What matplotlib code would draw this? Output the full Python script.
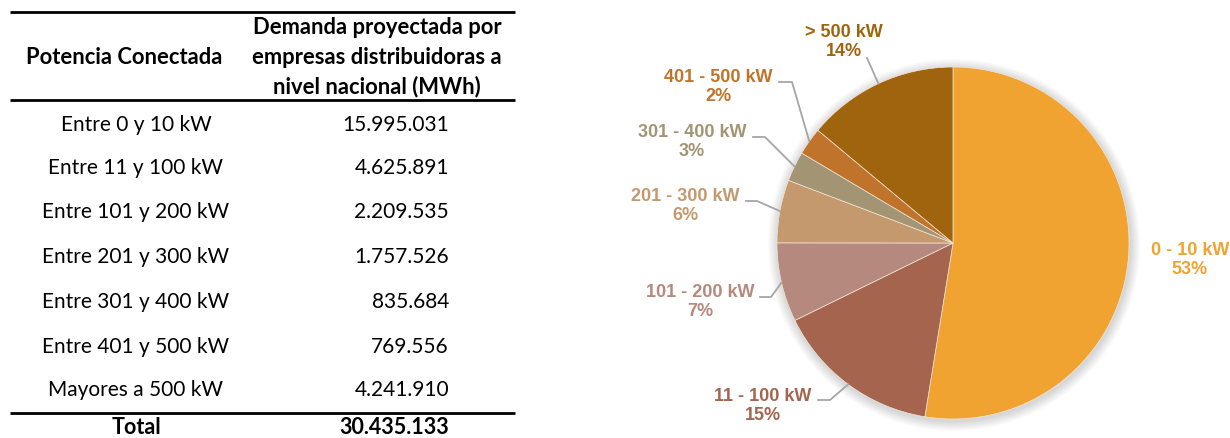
import numpy as np
import matplotlib
matplotlib.use("Agg")
import matplotlib.pyplot as plt
from matplotlib.patches import Circle

# Table data
rangos = ["Entre 0 y 10 kW", "Entre 11 y 100 kW", "Entre 101 y 200 kW",
          "Entre 201 y 300 kW", "Entre 301 y 400 kW", "Entre 401 y 500 kW",
          "Mayores a 500 kW"]
demanda = [15995031, 4625891, 2209535, 1757526, 835684, 769556, 4241910]
demanda_txt = ["15.995.031", "4.625.891", "2.209.535", "1.757.526",
               "835.684", "769.556", "4.241.910"]
total_txt = "30.435.133"

# Pie labels
pie_names = ["0 - 10 kW", "11 - 100 kW", "101 - 200 kW", "201 - 300 kW",
             "301 - 400 kW", "401 - 500 kW", "> 500 kW"]
pie_pct = ["53%", "15%", "7%", "6%", "3%", "2%", "14%"]
colors = ["#F0A330", "#A5644E", "#B5897E", "#C4996E", "#A39474", "#C0732A", "#A0640E"]

W, H = 1230, 438
fig = plt.figure(figsize=(W / 100, H / 100), dpi=100)
ax = fig.add_axes([0, 0, 1, 1])

def up(y):
    return H - y

# ---- table ----
tfont = "Lato"
for yy in [12, 100, 413]:
    ax.plot([10, 515], [up(yy), up(yy)], color="black", lw=2, solid_capstyle="butt")

ax.text(124, up(57), "Potencia Conectada", ha="center", va="center",
        fontsize=15.8, fontweight="bold", family=tfont)
for i, line in enumerate(["Demanda proyectada por", "empresas distribuidoras a",
                          "nivel nacional (MWh)"]):
    ax.text(377, up(28 + 29.5 * i), line, ha="center", va="center",
            fontsize=15.8, fontweight="bold", family=tfont)

row_y = [125, 168, 212, 257, 302, 347, 390]
for r, v, yy in zip(rangos, demanda_txt, row_y):
    ax.text(136, up(yy), r, ha="center", va="center", fontsize=15, family=tfont)
    ax.text(449, up(yy), v, ha="right", va="center", fontsize=15, family=tfont)
ax.text(137, up(428), "Total", ha="center", va="center", fontsize=15.5,
        fontweight="bold", family=tfont)
ax.text(449, up(428), total_txt, ha="right", va="center", fontsize=15.5,
        fontweight="bold", family=tfont)

# ---- pie ----
cx, cy, R = 953, up(243), 176
# soft shadow
for k in range(10):
    ax.add_patch(Circle((cx + 1, cy - 2), R + 10 - k, color="black",
                        alpha=0.015, lw=0, zorder=1))
wedges, _ = ax.pie(demanda, colors=colors, startangle=90, counterclock=False,
                   center=(cx, cy), radius=R, frame=True,
                   wedgeprops=dict(edgecolor="#f2e6d8", linewidth=0.5, zorder=2))

# label layout: text centre, connector start, elbow
lab_pos = [(1190, 260), (763, 406), (700, 302), (685, 206), (692, 142), (718, 87), (844, 42)]
conn = [None,
        [(818, 400), (830, 400)],
        [(760, 297), (771, 297)],
        [(746, 201), (757, 201)],
        [(753, 137), (765, 137)],
        [(779, 82), (792, 82)],
        [(867, 58)]]

for i, w in enumerate(wedges):
    tx, ty = lab_pos[i]
    ax.text(tx, up(ty), pie_names[i] + "\n" + pie_pct[i], ha="center", va="center",
            fontsize=13, fontweight="bold", color=colors[i],
            family="Liberation Sans", linespacing=1.2, zorder=5)
    if conn[i] is None:
        continue
    ang = np.deg2rad((w.theta1 + w.theta2) / 2)
    ex, ey = cx + R * np.cos(ang), cy + R * np.sin(ang)
    xs = [p[0] for p in conn[i]] + [ex]
    ys = [up(p[1]) for p in conn[i]] + [ey]
    ax.plot(xs, ys, color="#A6A6A6", lw=1.3, zorder=4)

ax.set_xlim(0, W)
ax.set_ylim(0, H)
ax.set_aspect("equal")
ax.axis("off")

fig.savefig("out.png", dpi=100)
